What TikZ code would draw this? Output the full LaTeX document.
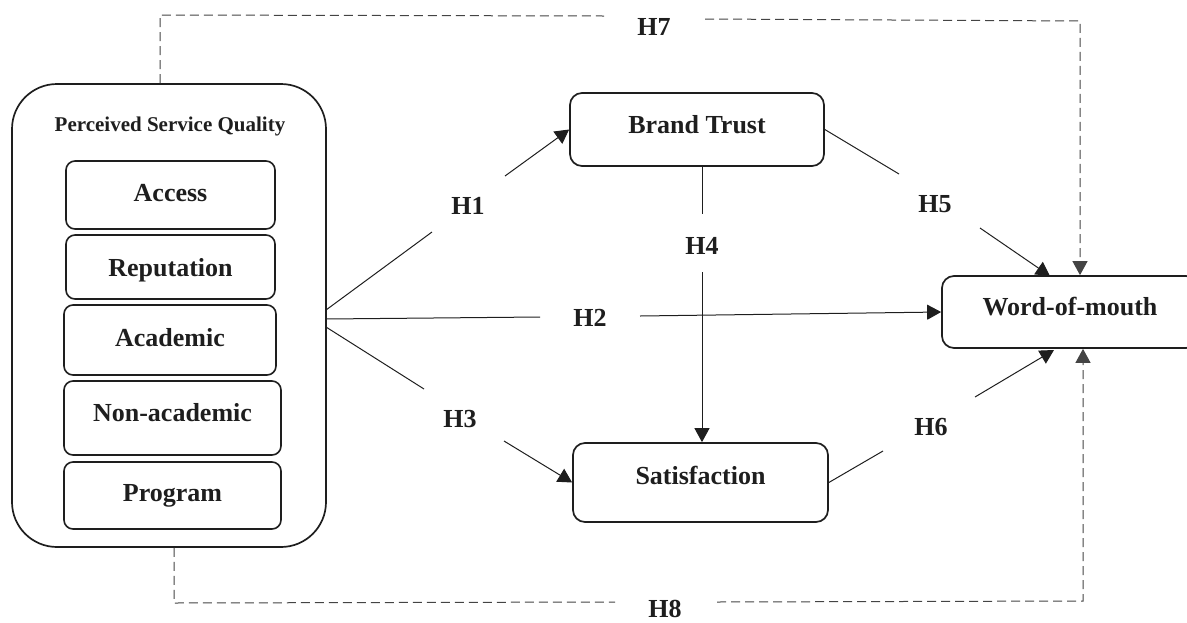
\documentclass[tikz,border=0pt]{standalone}
\usepackage{fontspec}
\setmainfont{Liberation Serif}
\usetikzlibrary{arrows.meta,calc}
\definecolor{ink}{HTML}{1E1E1E}
\definecolor{dashgray}{HTML}{444444}
\begin{document}
\begin{tikzpicture}[x=1pt,y=-1pt,
  every node/.style={text=ink},
  outerbox/.style={draw=ink, line width=1.7pt, rounded corners=45pt, minimum width=314pt, minimum height=463pt, inner sep=0pt},
  subbox/.style={draw=ink, line width=1.6pt, rounded corners=9pt, inner sep=0pt, font=\fontsize{26}{30}\selectfont\bfseries, text height=18pt},
  mainbox/.style={draw=ink, line width=1.7pt, rounded corners=12pt, inner sep=0pt, font=\fontsize{26}{30}\selectfont\bfseries, text height=18pt},
  hyp/.style={font=\fontsize{26}{30}\selectfont\bfseries, inner sep=0pt},
  link/.style={draw=ink, line width=1pt},
  arr/.style={link, -{Triangle[length=14pt,width=15pt]}},
  dashlink/.style={draw=dashgray, line width=1pt, dash pattern=on 9pt off 5pt},
  darr/.style={dashlink, -{Triangle[length=14pt,width=15pt]}}
]
\useasboundingbox (0,0) rectangle (1187,622);

% left construct
\node[outerbox] (psq) at (169,315.5) {};
\node[font=\fontsize{21}{25}\selectfont\bfseries, inner sep=0pt] (title) at (170,126) {Perceived Service Quality};
\node[subbox, minimum width=209pt, minimum height=68pt, text depth=6pt] (access) at (170.5,195) {Access};
\node[subbox, minimum width=209pt, minimum height=64pt, text depth=0pt] (reput) at (170.5,267) {Reputation};
\node[subbox, minimum width=212pt, minimum height=70pt, text depth=6pt] (acad) at (170,340) {Academic};
\node[subbox, minimum width=217pt, minimum height=74pt, text depth=12pt] (nonacad) at (172.5,418) {Non-academic};
\node[subbox, minimum width=217pt, minimum height=67pt, text depth=6pt] (prog) at (172.5,495.5) {Program};

% mediators and outcome
\node[mainbox, minimum width=254pt, minimum height=73pt, text depth=11pt] (bt) at (697,129.5) {Brand Trust};
\node[mainbox, minimum width=255pt, minimum height=79pt, text depth=15pt] (sat) at (700.5,482.5) {Satisfaction};
\node[mainbox, minimum width=256pt, minimum height=72pt, text depth=11pt] (wom) at (1070,312) {Word-of-mouth};

% hypothesis labels
\node[hyp] (h1) at (468,206) {H1};
\node[hyp] (h2) at (590,318) {H2};
\node[hyp] (h3) at (460,419) {H3};
\node[hyp] (h4) at (702,246) {H4};
\node[hyp] (h5) at (935,204) {H5};
\node[hyp] (h6) at (931,427) {H6};
\node[hyp] (h7) at (654,27) {H7};
\node[hyp] (h8) at (665,609) {H8};

% break points
\coordinate (s1) at (326,310);
\coordinate (s2) at (326,319);
\coordinate (s3) at (326,327);
\coordinate (h1a) at (432,232);
\coordinate (h1b) at (505,176);
\coordinate (h2a) at (540,317);
\coordinate (h2b) at (640,316);
\coordinate (h3a) at (424,389);
\coordinate (h3b) at (504,441);
\coordinate (h4a) at (702,214);
\coordinate (h4b) at (702,272);
\coordinate (h5a) at (899,174);
\coordinate (h5b) at (980,228);
\coordinate (h6a) at (883,451);
\coordinate (h6b) at (975,397);
\coordinate (t5) at (1050,276);
\coordinate (t6) at (1054,350);
\coordinate (d7a) at (160,15);
\coordinate (h7a) at (604,16);
\coordinate (h7b) at (705,19);
\coordinate (d7b) at (1080,21);
\coordinate (d8a) at (174,603);
\coordinate (h8a) at (615,602);
\coordinate (h8b) at (717,602);
\coordinate (d8b) at (1083,601);

% H1
\draw[link] (s1) -- (h1a);
\draw[arr] (h1b) -- (bt.west);
% H2
\draw[link] (s2) -- (h2a);
\draw[arr] (h2b) -- (wom.west);
% H3
\draw[link] (s3) -- (h3a);
\draw[arr] (h3b) -- (sat.west);
% H4
\draw[link] (h4a |- bt.south) -- (h4a);
\draw[arr] (h4b) -- (h4b |- sat.north);
% H5
\draw[link] (bt.east) -- (h5a);
\draw[arr] (h5b) -- (t5);
% H6
\draw[link] (sat.east) -- (h6a);
\draw[arr] (h6b) -- (t6);
% H7
\draw[dashlink] (d7a |- psq.north) -- (d7a) -- (h7a);
\draw[darr] (h7b) -- (d7b) -- (d7b |- wom.north);
% H8
\draw[dashlink] (d8a |- psq.south) -- (d8a) -- (h8a);
\draw[darr] (h8b) -- (d8b) -- (d8b |- wom.south);
\end{tikzpicture}
\end{document}
